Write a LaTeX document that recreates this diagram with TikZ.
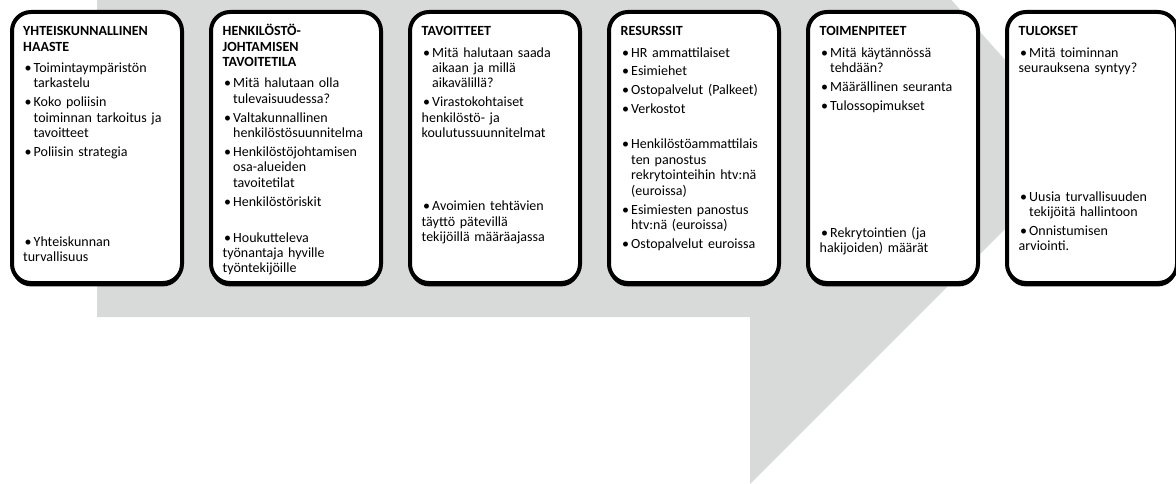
\documentclass[tikz,border=0pt]{standalone}
\usepackage{fontspec}
\setmainfont{Carlito}
\usetikzlibrary{shadows}
\definecolor{harmaa}{RGB}{216,217,217}

\newcommand{\otsikko}[1]{\noindent\textbf{#1}\par\addvspace{5.7pt}}
\newcommand{\eka}[1]{\hangindent=10.5pt\hangafter=1\noindent\hbox to 10.5pt{\hskip1.5pt\textbullet\hfil}#1}
\newcommand{\bul}[1]{\par\addvspace{3.5pt}\eka{#1}}

\begin{document}
\begin{tikzpicture}[x=1pt, y=-1pt,
    panel/.style={draw=black, fill=white, line width=4pt, rounded corners=19pt,
      minimum width=170pt, minimum height=271pt, anchor=north west, inner sep=0pt,
      drop shadow={shadow xshift=0pt, shadow yshift=-3.4pt, fill=black, opacity=1}},
    txt/.style={anchor=base west, inner sep=0pt, text width=166pt, align=left,
      font=\fontsize{14}{15.4}\selectfont}]
  \useasboundingbox (0,0) rectangle (1176,484);
  \fill[harmaa] (97,-5) -- (947,-5) -- (1085,149) -- (750,484) -- (750,317) -- (97,317) -- cycle;

  \node[panel] (haaste) at (10,10) {};
  \node[panel] (tavoitetila) at (209,10) {};
  \node[panel] (tavoitteet) at (408,10) {};
  \node[panel] (resurssit) at (607,10) {};
  \node[panel] (toimenpiteet) at (806,10) {};
  \node[panel] (tulokset) at (1005,10) {};

  \node[txt] (haaste-ylä) at (23,36) {\otsikko{YHTEISKUNNALLINEN\newline HAASTE}
    \eka{Toimintaympäristön\newline tarkastelu}
    \bul{Koko poliisin\newline toiminnan tarkoitus ja\newline tavoitteet}
    \bul{Poliisin strategia}};
  \node[txt] (haaste-ala) at (23,246) {\eka{Yhteiskunnan\newline turvallisuus}};

  \node[txt] (tavoitetila-ylä) at (222.5,36) {\otsikko{HENKILÖSTÖ-\newline JOHTAMISEN\newline TAVOITETILA}
    \eka{Mitä halutaan olla\newline tulevaisuudessa?}
    \bul{Valtakunnallinen\newline henkilöstösuunnitelma}
    \bul{Henkilöstöjohtamisen\newline osa-alueiden\newline tavoitetilat}
    \bul{Henkilöstöriskit}};
  \node[txt] (tavoitetila-ala) at (222.5,242) {\eka{Houkutteleva\newline työnantaja hyville\newline työntekijöille}};

  \node[txt] (tavoitteet-ylä) at (421.5,36) {\otsikko{TAVOITTEET}
    \eka{Mitä halutaan saada\newline aikaan ja millä\newline aikavälillä?}
    \bul{Virastokohtaiset\newline henkilöstö- ja\newline koulutussuunnitelmat}};
  \node[txt] (tavoitteet-ala) at (421.5,211) {\eka{Avoimien tehtävien\newline täyttö pätevillä\newline tekijöillä määräajassa}};

  \node[txt] (resurssit-ylä) at (620.5,36) {\otsikko{RESURSSIT}
    \eka{HR ammattilaiset}
    \bul{Esimiehet}
    \bul{Ostopalvelut (Palkeet)}
    \bul{Verkostot}};
  \node[txt] (resurssit-ala) at (620.5,149) {\eka{Henkilöstöammattilais\newline ten panostus\newline rekrytointeihin htv:nä\newline (euroissa)}
    \bul{Esimiesten panostus\newline htv:nä (euroissa)}
    \bul{Ostopalvelut euroissa}};

  \node[txt] (toimenpiteet-ylä) at (819.5,36) {\otsikko{TOIMENPITEET}
    \eka{Mitä käytännössä\newline tehdään?}
    \bul{Määrällinen seuranta}
    \bul{Tulossopimukset}};
  \node[txt] (toimenpiteet-ala) at (819.5,237) {\eka{Rekrytointien (ja\newline hakijoiden) määrät}};

  \node[txt] (tulokset-ylä) at (1018.5,36) {\otsikko{TULOKSET}
    \eka{Mitä toiminnan\newline seurauksena syntyy?}};
  \node[txt] (tulokset-ala) at (1018.5,201) {\eka{Uusia turvallisuuden\newline tekijöitä hallintoon}
    \bul{Onnistumisen\newline arviointi.}};
\end{tikzpicture}
\end{document}
